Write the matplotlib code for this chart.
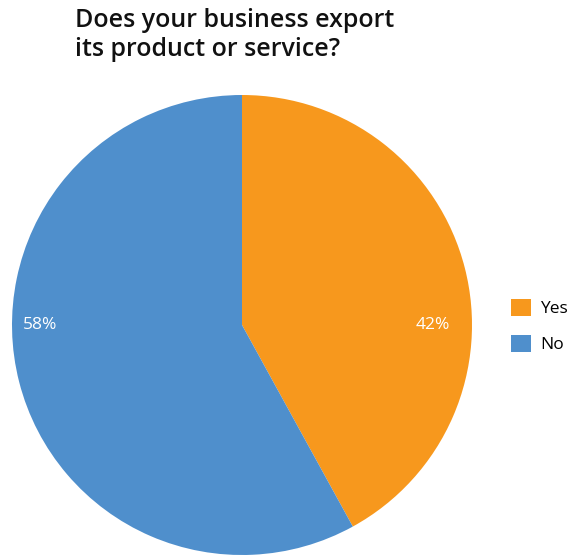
import matplotlib
matplotlib.use("Agg")
import matplotlib.pyplot as plt

categories = ["Yes", "No"]
values = [42, 58]
colors = ["#F7981D", "#4F8FCC"]
title = "Does your business export\nits product or service?"

fig = plt.figure(figsize=(5.72, 5.57), dpi=100)
ax = fig.add_axes([12/572, 2/557, 460/572, 460/557])
wedges, texts = ax.pie(values, colors=colors, startangle=90, counterclock=False)
ax.set_xlim(-1, 1)
ax.set_ylim(-1, 1)
ax.set_aspect("equal")

# percentage labels placed horizontally as in the reference
label_x = [0.83, -0.88]
for v, lx in zip(values, label_x):
    ax.text(lx, 0.0, f"{v}%", color="white", fontsize=12.5, ha="center",
            va="center", family=["Open Sans", "DejaVu Sans"])

fig.text(75/572, 1 - 8/557, title, ha="left", va="top", fontsize=18,
         fontweight="semibold", family=["Open Sans", "DejaVu Sans"],
         linespacing=1.2, color="#111111")

leg = fig.legend(wedges, categories, loc="center left",
                 bbox_to_anchor=(508/572, 1 - 326/557), frameon=False,
                 prop=dict(family=["Open Sans", "DejaVu Sans"], size=12.5),
                 handlelength=1.15, handleheight=1.15, handletextpad=0.5,
                 labelspacing=1.0, borderaxespad=0, borderpad=0.2)
fig.savefig("out.png", dpi=100)
